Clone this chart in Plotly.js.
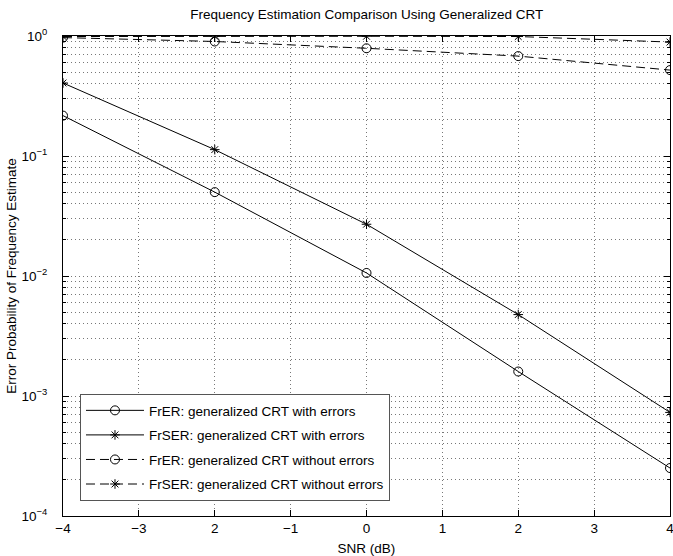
<!DOCTYPE html>
<html>
<head>
<meta charset="utf-8">
<script src="https://cdn.plot.ly/plotly-3.0.1.min.js"></script>
<style>html,body{margin:0;padding:0;background:#fff;}#chart{width:673px;height:556px;}</style>
</head>
<body>
<div id="chart"></div>
<script>
// ---- data ----
const snr = [-4, -2, 0, 2, 4];
const frerWith = [0.217, 0.050, 0.0106, 0.0016, 0.000251];
const frserWith = [0.406, 0.113, 0.027, 0.00477, 0.00073];
const frerWithout = [0.97, 0.90, 0.79, 0.68, 0.52];
const frserWithout = [0.99, 0.995, 0.995, 0.99, 0.89];

const seriesNames = [
  "FrER: generalized CRT with errors",
  "FrSER: generalized CRT with errors",
  "FrER: generalized CRT without errors",
  "FrSER: generalized CRT without errors"
];
const xTickVals = [-4, -3, -2, -1, 0, 1, 2, 3, 4];
const xTickText = ["\u22124", "\u22123", "2", "\u22121", "0", "1", "2", "3", "4"];
const yTickVals = [1e-4, 1e-3, 1e-2, 1e-1, 1];
const yTickText = ["10<sup>\u22124</sup>", "10<sup>\u22123</sup>", "10<sup>\u22122</sup>", "10<sup>\u22121</sup>", "10<sup>0</sup>"];

// minor log ticks 2..9 per decade
const yMinor = [];
for (let e = -4; e < 0; e++) {
  for (let m = 2; m <= 9; m++) yMinor.push(m * Math.pow(10, e));
}

const FONT = "Liberation Sans, Arial, Helvetica, sans-serif";
function tr(y, name, sym, dash, grp) {
  return {
    x: snr, y: y, name: name, type: "scatter", mode: "lines+markers", legendgroup: grp,
    line: {color: "#000", width: 1, dash: dash},
    marker: {symbol: sym, size: sym === "circle-open" ? 9 : 8, color: "#000", line: {color: "#000", width: 1}}
  };
}
const data = [
  tr(frerWith, seriesNames[0], "circle-open", "solid", "g1"),
  tr(frserWith, seriesNames[1], "asterisk-open", "solid", "g2"),
  tr(frerWithout, seriesNames[2], "circle-open", "9px,5px", "g3"),
  tr(frserWithout, seriesNames[3], "asterisk-open", "9px,5px", "g4")
];

const gridStyle = {showgrid: true, gridcolor: "#777", griddash: "1px,3px", gridwidth: 1};
const layout = {
  width: 673, height: 556,
  margin: {l: 63, r: 3, t: 36, b: 40, pad: 0},
  paper_bgcolor: "#fff", plot_bgcolor: "#fff",
  font: {family: FONT, size: 13.5, color: "#000"},
  showlegend: true,
  title: {text: "Frequency Estimation Comparison Using Generalized CRT", font: {family: FONT, size: 13.5, color: "#000"},
          x: 0.545, xanchor: "center", yref: "container", y: 1 - 14 / 556, yanchor: "middle"},
  xaxis: Object.assign({
    range: [-4, 4], tickmode: "array", tickvals: xTickVals, ticktext: xTickText,
    ticks: "inside", ticklen: 6, tickcolor: "#000", tickwidth: 1,
    showline: true, linecolor: "#000", linewidth: 1, mirror: "allticks", zeroline: false,
    tickfont: {family: FONT, size: 13.5}, automargin: false, ticklabeloverflow: "allow",
    title: {text: "SNR (dB)", font: {family: FONT, size: 13.5}, standoff: 8}
  }, gridStyle),
  yaxis: Object.assign({
    type: "log", range: [-4, 0], tickmode: "array", tickvals: yTickVals, ticktext: yTickText,
    ticks: "inside", ticklen: 6, tickcolor: "#000", tickwidth: 1,
    showline: true, linecolor: "#000", linewidth: 1, mirror: "allticks", zeroline: false,
    tickfont: {family: FONT, size: 13.5}, automargin: false, ticklabelstandoff: 12, ticklabeloverflow: "allow",
    title: {text: "Error Probability of Frequency Estimate", font: {family: FONT, size: 13.5}, standoff: 1},
    minor: Object.assign({tickvals: yMinor, ticks: "inside", ticklen: 3, tickcolor: "#000"}, gridStyle)
  }, gridStyle),
  legend: {
    x: 0.028, y: 0.254, xanchor: "left", yanchor: "top",
    bgcolor: "#fff", bordercolor: "#555", borderwidth: 1,
    itemwidth: 58, tracegroupgap: 4, entrywidth: 310, entrywidthmode: "pixels",
    font: {family: FONT, size: 13.5, color: "#000"}
  }
};
Plotly.newPlot("chart", data, layout, {displayModeBar: false, staticPlot: true});
</script>
</body>
</html>
